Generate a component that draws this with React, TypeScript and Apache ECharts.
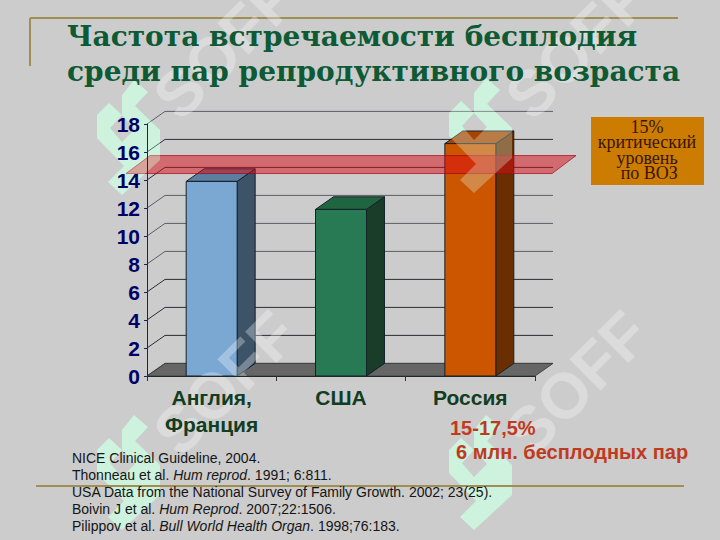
import React, { useEffect, useRef } from "react";
import * as echarts from "echarts";

const categories = ["Англия,\nФранция", "США", "Россия"];
const values = [13.9, 11.9, 16.6];
const yTicks = [0, 2, 4, 6, 8, 10, 12, 14, 16, 18];
const gridColors = ["#444444", "#2c2c34", "#2c2c34", "#2c2c34", "#5c5c68", "#5c5c68", "#5c5c68", "#2c2c34", "#2c2c34", "#5c5c68"];
const bandLevel = [14.46];
const frontColors = ["#7ba7d3", "#287a55", "#cc5500"];
const sideColors = ["#3d5368", "#1a3d2a", "#6b2e00"];
const topColors = ["#5c7ea0", "#1f6640", "#a84400"];
const titleLines = ["Частота встречаемости бесплодия", "среди пар репродуктивного возраста"];
const boxLines = ["15%", "критический", "уровень", " по ВОЗ"];
const redLines = ["15-17,5%", "6 млн. бесплодных пар"];
const references = [
  "{n|NICE Clinical Guideline, 2004.}",
  "{n|Thonneau et al. }{i|Hum reprod}{n|. 1991; 6:811.}",
  "{n|USA Data from the National Survey of Family Growth. 2002; 23(25).}",
  "{n|Boivin J et al. }{i|Hum Reprod}{n|. 2007;22:1506.}",
  "{n|Pilippov et al. }{i|Bull World Health Organ}{n|. 1998;76:183.}",
];

const DX = 18;
const DY = 12.6;
const sans = '"Liberation Sans", Arial, sans-serif';
const serif = '"Liberation Serif", serif';

const logoOutline = [
  [134, 80], [148, 92], [135, 106], [160, 130], [160, 160], [122, 195], [108, 182],
  [124, 166], [97, 138], [97, 115], [109, 103], [122, 115], [110, 128], [122, 142],
  [135, 129], [122, 115], [122, 95],
];
const logoOffsets = [[0, 0], [352, -2], [0, 335], [352, 335]];
const softCenters = [[225, 47], [577, 47], [225, 383], [577, 383]];

function buildGraphic() {
  const els: any[] = [];
  logoOffsets.forEach(([x, y]) => {
    els.push({ type: "polygon", x, y, z: 1, silent: true, shape: { points: logoOutline }, style: { fill: "#c4ecd9" } });
    els.push({ type: "polygon", x, y, z: 20, silent: true, shape: { points: logoOutline }, style: { fill: "rgba(225,255,235,0.3)" } });
  });
  softCenters.forEach(([x, y]) => {
    els.push({
      type: "text", x, y, z: 21, silent: true, rotation: Math.PI / 4,
      style: { text: "SOFF", fill: "rgba(255,255,255,0.3)", font: `bold 64px ${sans}`, textAlign: "center", textVerticalAlign: "middle" },
    });
  });
  els.push({ type: "line", z: 2, shape: { x1: 30, y1: 18, x2: 678, y2: 18 }, style: { stroke: "#a08f55", lineWidth: 2 } });
  els.push({ type: "line", z: 2, shape: { x1: 30, y1: 18, x2: 30, y2: 66 }, style: { stroke: "#a08f55", lineWidth: 2 } });
  els.push({ type: "line", z: 26, shape: { x1: 36, y1: 486, x2: 684, y2: 486 }, style: { stroke: "#a08f55", lineWidth: 2 } });
  titleLines.forEach((text, i) => {
    els.push({
      type: "text", x: 67, y: 36 + i * 35, z: 30,
      style: { text, fill: "#0d5a35", font: `bold 28px "DejaVu Serif", serif`, textAlign: "left", textVerticalAlign: "middle" },
    });
  });
  els.push({ type: "rect", z: 9, shape: { x: 591, y: 117, width: 113, height: 68 }, style: { fill: "#cc7c00" } });
  els.push({
    type: "text", x: 647, y: 150, z: 30,
    style: { text: boxLines.join("\n"), fill: "#3a1500", font: `18px ${serif}`, lineHeight: 15.3, textAlign: "center", textVerticalAlign: "middle" },
  });
  els.push({ type: "text", x: 450, y: 428, z: 30, style: { text: redLines[0], fill: "#bf3a1e", font: `bold 20px ${sans}`, textAlign: "left", textVerticalAlign: "middle" } });
  els.push({ type: "text", x: 456, y: 452, z: 30, style: { text: redLines[1], fill: "#bf3a1e", font: `bold 20px ${sans}`, textAlign: "left", textVerticalAlign: "middle" } });
  const rich = {
    n: { fontFamily: "Liberation Sans", fontSize: 14, fill: "#151515" },
    i: { fontFamily: "Liberation Sans", fontSize: 14, fontStyle: "italic", fill: "#151515" },
  };
  references.forEach((text, i) => {
    els.push({ type: "text", x: 72, y: 458 + i * 17, z: 30, style: { text, rich, textAlign: "left", textVerticalAlign: "middle" } });
  });
  return els;
}

export default function App() {
  const ref = useRef<HTMLDivElement>(null);
  useEffect(() => {
    const chart = echarts.init(ref.current!, undefined, { renderer: "svg" });
    chart.setOption({
      animation: false,
      backgroundColor: "#cccccc",
      grid: { left: 147, top: 124, width: 388, height: 252, containLabel: false },
      xAxis: {
        type: "category",
        data: categories,
        z: 30,
        axisLine: { lineStyle: { color: "#1c2a2a", width: 1 } },
        axisTick: { show: true, length: 5, alignWithLabel: false, lineStyle: { color: "#333" } },
        axisLabel: { color: "#123d22", fontFamily: "Liberation Sans", fontWeight: "bold", fontSize: 21, lineHeight: 27, margin: 8, interval: 0 },
      },
      yAxis: {
        type: "value",
        min: 0,
        max: 18,
        interval: 2,
        z: 30,
        axisLine: { show: true, lineStyle: { color: "#15255a", width: 1 } },
        axisTick: { show: true, length: 3, lineStyle: { color: "#15255a" } },
        splitLine: { show: false },
        axisLabel: { color: "#000066", fontFamily: "Liberation Sans", fontWeight: "bold", fontSize: 21, margin: 7 },
      },
      graphic: { elements: buildGraphic() },
      series: [
        {
          type: "custom", z: 4, silent: true, clip: false,
          data: [[0, 0]],
          renderItem: (p: any, api: any) => {
            const c = p.coordSys;
            const y = api.coord([0, api.value(1)])[1];
            return {
              type: "polygon",
              shape: { points: [[c.x, y], [c.x + DX, y - DY], [c.x + c.width + DX, y - DY], [c.x + c.width, y]] },
              style: { fill: "#666666", stroke: "#444", lineWidth: 1 },
            };
          },
        },
        {
          type: "custom", z: 5, silent: true, clip: false,
          data: yTicks.map((v) => [0, v]),
          renderItem: (p: any, api: any) => {
            const c = p.coordSys;
            const y = api.coord([0, api.value(1)])[1];
            return {
              type: "polyline",
              shape: { points: [[c.x, y], [c.x + DX, y - DY], [c.x + c.width + DX, y - DY]] },
              style: { fill: "none", stroke: gridColors[p.dataIndex], lineWidth: 1 },
            };
          },
        },
        {
          type: "custom", z: 6, silent: true, clip: false,
          data: values.map((v, i) => [i, v]),
          renderItem: (p: any, api: any) => {
            const i = api.value(0);
            const [cx, yTop] = api.coord([i, api.value(1)]);
            const y0 = api.coord([i, 0])[1];
            const w = api.size([1, 0])[0] * 0.394;
            const x0 = cx - w / 2;
            const x1 = cx + w / 2;
            const stroke = "#14202a";
            return {
              type: "group",
              children: [
                { type: "polygon", shape: { points: [[x1, yTop], [x1 + DX, yTop - DY], [x1 + DX, y0 - DY], [x1, y0]] }, style: { fill: sideColors[i], stroke, lineWidth: 1 } },
                { type: "polygon", shape: { points: [[x0, yTop], [x0 + DX, yTop - DY], [x1 + DX, yTop - DY], [x1, yTop]] }, style: { fill: topColors[i], stroke, lineWidth: 1 } },
                { type: "rect", shape: { x: x0, y: yTop, width: w, height: y0 - yTop }, style: { fill: frontColors[i], stroke, lineWidth: 1 } },
              ],
            };
          },
        },
        {
          type: "custom", z: 7, silent: true, clip: false,
          data: bandLevel.map((v) => [0, v]),
          renderItem: (p: any, api: any) => {
            const c = p.coordSys;
            const y = api.coord([0, api.value(1)])[1];
            return {
              type: "polygon",
              shape: { points: [[c.x - 21, y], [c.x + 3, y - 18], [c.x + c.width + 41, y - 18], [c.x + c.width + 17, y]] },
              style: { fill: "rgba(215,10,20,0.5)", stroke: "rgba(170,0,20,0.7)", lineWidth: 1 },
            };
          },
        },
      ],
    });
    return () => chart.dispose();
  }, []);
  return <div ref={ref} style={{ position: "absolute", left: 0, top: 0, width: 720, height: 540 }} />;
}
